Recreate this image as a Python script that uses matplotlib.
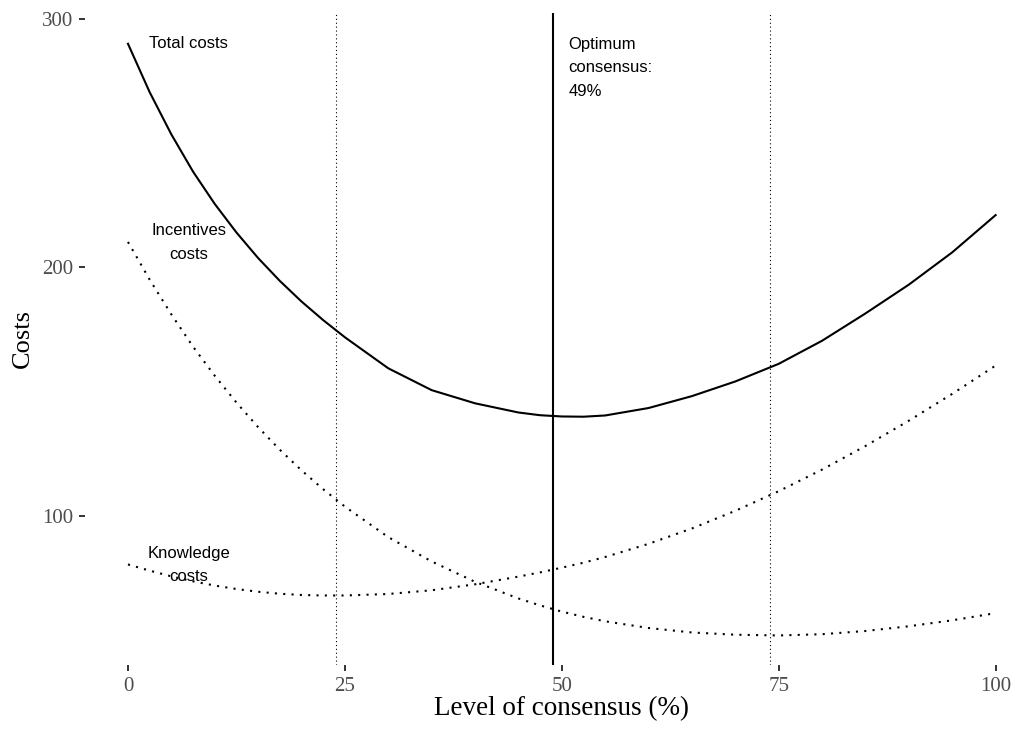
import matplotlib
matplotlib.use("Agg")
import matplotlib.pyplot as plt

# Level of consensus (%)
consensus = [0, 2.5, 5, 7.5, 10, 12.5, 15, 17.5, 20, 22.5, 25, 30, 35, 40, 45, 47.5, 50,
             52.5, 55, 60, 65, 70, 75, 80, 85, 90, 95, 100]

# Costs
incentives_costs = [210.2, 195.0, 181.0, 168.0, 156.3, 145.5, 135.6, 126.5, 118.2, 110.6, 103.6,
                    91.3, 81.5, 73.3, 66.6, 63.8, 61.3, 59.2, 57.4, 54.7, 52.9, 52.0, 51.7,
                    52.2, 53.5, 55.4, 57.8, 60.7]
knowledge_costs = [80.3, 77.8, 75.5, 73.5, 71.8, 70.4, 69.3, 68.5, 68.0, 67.8, 67.8,
                   68.4, 69.9, 72.3, 75.4, 77.1, 79.0, 81.0, 83.3, 88.6, 94.8, 101.9, 109.8,
                   118.5, 128.0, 138.2, 149.0, 160.4]
total_costs = [290.0, 270.5, 253.5, 238.5, 225.5, 214.0, 203.7, 194.5, 186.2, 178.7, 171.8,
               159.3, 150.5, 145.2, 141.5, 140.4, 139.9, 139.8, 140.3, 143.3, 148.1, 154.0, 161.1,
               170.4, 181.4, 193.0, 206.0, 221.0]

optimum = 49
bounds = [24, 74]
x_ticks = [0, 25, 50, 75, 100]
y_ticks = [100, 200, 300]

W, H = 1019, 734
fig = plt.figure(figsize=(W / 100, H / 100), dpi=100)
# panel in pixel coordinates (right edge runs past the figure, as in the reference crop)
left, right, top, bottom = 84.6, 1039, 13, 665
ax = fig.add_axes([left / W, 1 - bottom / H, (right - left) / W, (bottom - top) / H])

dot_style = dict(color='black', linewidth=1.5, linestyle=(0, (1, 3)), dash_capstyle='butt')
ax.plot(consensus, incentives_costs, **dot_style)
ax.plot(consensus, knowledge_costs, **dot_style)
ax.plot(consensus, total_costs, color='black', linewidth=1.5)

# optimum and limits
ax.axvline(optimum, color='black', linewidth=1.5)
for b in bounds:
    ax.axvline(b, color='black', linewidth=0.8, linestyle=(0, (1, 2.5)))

# labels on the curves
sans = ['Liberation Sans', 'DejaVu Sans']
lab = dict(fontsize=12, family=sans, ha='center', va='center', linespacing=1.7)
ax.text(7, 290, 'Total costs', **lab)
ax.text(7, 210, 'Incentives\ncosts', **lab)
ax.text(7, 80, 'Knowledge\ncosts', **lab)
ax.text(50.8, 280.3, 'Optimum\nconsensus:\n49%', fontsize=12, family=sans,
        ha='left', va='center', linespacing=1.7)

ax.set_xlim(-5, 105)
ax.set_ylim(39.8, 302.4)
ax.set_xticks(x_ticks)
ax.set_yticks(y_ticks)
for s in ax.spines.values():
    s.set_visible(False)
ax.tick_params(length=4.5, width=1.4, color='#333333', labelcolor='#4d4d4d', labelsize=15)
ax.tick_params(axis='x', pad=4)
for t in ax.get_xticklabels() + ax.get_yticklabels():
    t.set_family('Liberation Serif')

ax.set_xlabel('Level of consensus (%)', fontsize=19.5, family='Liberation Serif', labelpad=0)
ax.set_ylabel('Costs', fontsize=19, family='Liberation Serif', labelpad=6)

fig.savefig('out.png', dpi=100)
